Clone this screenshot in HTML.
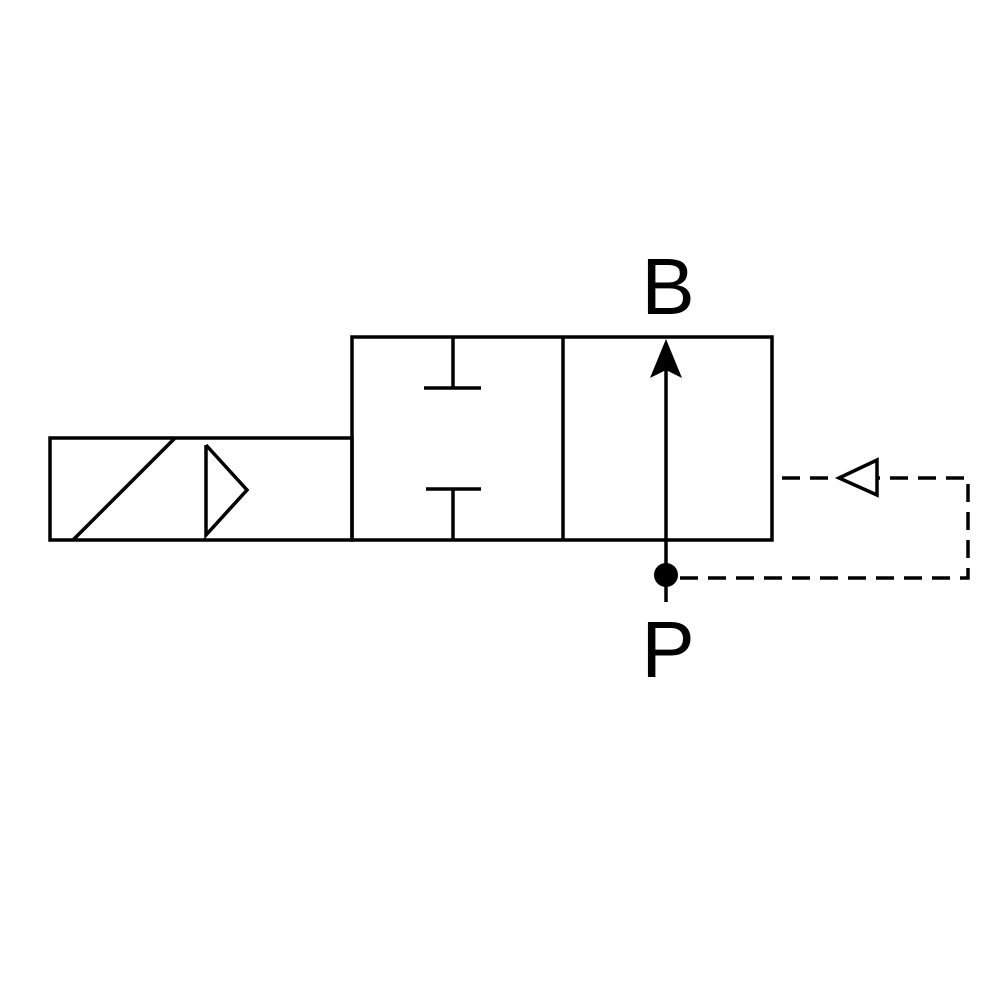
<!DOCTYPE html>
<html><head><meta charset="utf-8"><style>
html,body{margin:0;padding:0;background:#fff;}
svg{display:block;}
</style></head><body>
<svg width="1000" height="1000" viewBox="0 0 1000 1000" xmlns="http://www.w3.org/2000/svg">
<g fill="none" stroke="#000" stroke-width="3.5">
<rect x="50" y="438" width="302" height="102"/>
<line x1="73" y1="540" x2="175" y2="438"/>
<polyline points="206,445 247,490 206,535 206,445"/>
<rect x="352" y="337" width="420" height="203"/>
<line x1="563" y1="337" x2="563" y2="540"/>
<line x1="453" y1="337" x2="453" y2="388"/>
<line x1="424" y1="388" x2="481" y2="388"/>
<line x1="453" y1="489" x2="453" y2="540"/>
<line x1="426" y1="489" x2="481" y2="489"/>
<line x1="666" y1="370" x2="666" y2="602"/>
<g stroke-dasharray="18,10">
<polyline points="680,578 968,578 968,478 877,478"/>
<line x1="782" y1="478" x2="838" y2="478"/>
</g>
<polygon points="839,478 877,460 877,495"/>
</g>
<polygon points="666,339 650,378 666,370 682,378" fill="#000"/>
<circle cx="666" cy="575" r="12" fill="#000"/>
<text x="668" y="314" font-family="Liberation Sans, sans-serif" font-size="80" text-anchor="middle">B</text>
<text x="668" y="677" font-family="Liberation Sans, sans-serif" font-size="80" text-anchor="middle">P</text>
</svg>
</body></html>
